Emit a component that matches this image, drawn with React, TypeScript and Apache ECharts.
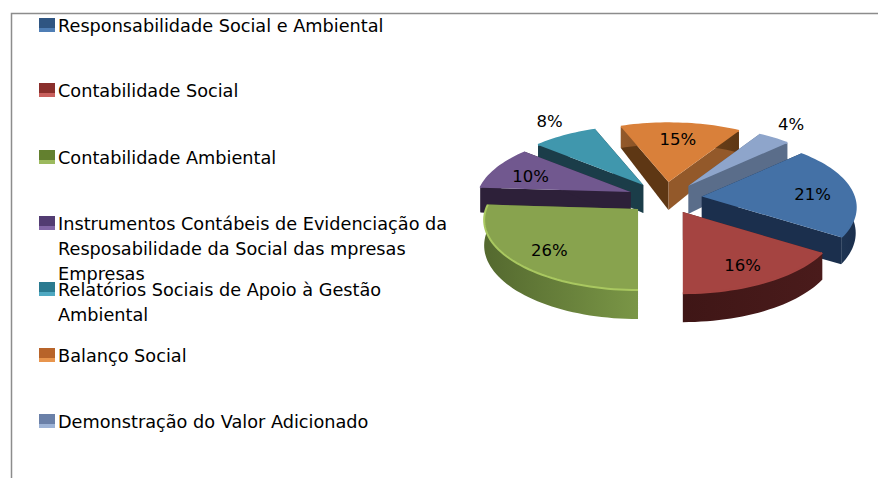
import React, { useEffect, useRef } from "react";
import * as echarts from "echarts";

const categories = [
  "Responsabilidade Social e Ambiental",
  "Contabilidade Social",
  "Contabilidade Ambiental",
  "Instrumentos Contábeis de Evidenciação da\nResposabilidade da Social das mpresas\nEmpresas",
  "Relatórios Sociais de Apoio à Gestão\nAmbiental",
  "Balanço Social",
  "Demonstração do Valor Adicionado",
];
const percentages = [21, 16, 26, 10, 8, 15, 4];

const topColors = ["#4471a6", "#a54441", "#88a34e", "#71588f", "#4097ad", "#d9803a", "#8ea5cb"];
const wallColors = ["#1b2f4d", "#4a1b1b", "#7a9646", "#2d2039", "#1b3d49", "#5e3714", "#5a6d8a"];
const wallEdgeColors = ["#24405f", "#3f1616", "#54692f", "#2d2039", "#1b3d49", "#93592a", "#5a6d8a"];
const startCutColors = ["#1b2f4d", "#4a1b1b", "#54692f", "#2d2039", "#1b3d49", "#5e3714", "#5a6d8a"];
const endCutColors = ["#1b2f4d", "#4a1b1b", "#54692f", "#2d2039", "#1b3d49", "#93592a", "#5a6d8a"];
const rimColors = ["#4471a6", "#a54441", "#a9c860", "#71588f", "#4097ad", "#d9803a", "#8ea5cb"];
const swatchDark = ["#2f5582", "#8a2f2c", "#63802f", "#523c72", "#2a7a90", "#b8642a", "#6a80a8"];
const swatchLight = ["#4f7eb5", "#c9605d", "#9cba5e", "#8266a6", "#4fa9c2", "#e8954d", "#9db3d6"];

const FONT = '"DejaVu Sans"';
const CX = 665;
const CY = 198;
const R = 152;
const SQUASH = 0.46;
const PERSPECTIVE = 0.16;
const EXPLODE_X = 37;
const EXPLODE_Y = 16;
const DEPTH = 25;
const APEX_DEPTH = 28;
const START_ANGLE = 46.8;
const TOTAL = percentages.reduce((a, b) => a + b, 0);

const rad = (d: number) => (d * Math.PI) / 180;

function startOf(i: number) {
  let acc = 0;
  for (let k = 0; k < i; k++) acc += percentages[k];
  return START_ANGLE + (acc / TOTAL) * 360;
}

function renderSlice(params: any, api: any) {
  const i = params.dataIndex;
  const value = api.value(1);
  const a0 = startOf(i);
  const a1 = a0 + (value / TOTAL) * 360;
  const mid = (a0 + a1) / 2;
  const ax = CX + EXPLODE_X * Math.sin(rad(mid));
  const ay = CY - EXPLODE_Y * Math.cos(rad(mid));
  const rimPoint = (deg: number, f = 1, z = 0) => {
    const Y = -Math.cos(rad(deg)) * f;
    const s = 1 + PERSPECTIVE * Y;
    return [
      ax + R * f * Math.sin(rad(deg)) * s,
      ay + SQUASH * R * Y * s + z * s,
    ];
  };
  const apexLow = [ax, ay + APEX_DEPTH];
  const arcTop: number[][] = [];
  const arcBottom: number[][] = [];
  const n = Math.max(8, Math.ceil((a1 - a0) / 2));
  for (let k = 0; k <= n; k++) {
    const d = a0 + ((a1 - a0) * k) / n;
    arcTop.push(rimPoint(d));
    arcBottom.push(rimPoint(d, 1, DEPTH));
  }
  const depthRank = Math.round((1 - Math.cos(rad(mid))) * 50) * 10;
  const outside = value < 10;
  const lp = rimPoint(mid, outside ? 1.25 : 0.74);
  const poly = (points: number[][], fill: any, z: number) => ({
    type: "polygon",
    z2: depthRank + z,
    shape: { points },
    style: { fill },
  });
  return {
    type: "group",
    children: [
      poly([arcTop[0], arcBottom[0], apexLow, [ax, ay]], startCutColors[i], 1),
      poly([arcTop[n], arcBottom[n], apexLow, [ax, ay]], endCutColors[i], 2),
      poly(
        [...arcTop, ...arcBottom.slice().reverse()],
        new echarts.graphic.LinearGradient(0, 0, 1, 0, [
          { offset: 0, color: wallEdgeColors[i] },
          { offset: 1, color: wallColors[i] },
        ]),
        3
      ),
      poly([[ax, ay], ...arcTop], topColors[i], 4),
      {
        type: "polyline",
        z2: depthRank + 5,
        shape: { points: arcTop },
        style: { stroke: rimColors[i], lineWidth: 2, fill: "none" },
      },
      {
        type: "text",
        z2: 2000,
        x: lp[0],
        y: lp[1] + (outside ? -4 : 3),
        style: {
          text: `${value}%`,
          fill: "#000000",
          font: `16.5px ${FONT}`,
          align: "center",
          verticalAlign: "middle",
        },
      },
    ],
  };
}

const legendTops = [26, 91, 158, 224, 290, 356, 422];

function legendGraphics() {
  const out: any[] = [
    {
      type: "polyline",
      shape: { points: [[11.5, 478], [11.5, 13.5], [878, 13.5]] },
      style: { stroke: "#8c8c8c", lineWidth: 1.5, fill: "none" },
    },
  ];
  categories.forEach((name, i) => {
    const y = legendTops[i];
    out.push({
      type: "rect",
      shape: { x: 39, y: y - 8, width: 16, height: 14 },
      style: {
        fill: new echarts.graphic.LinearGradient(0, 0, 0, 1, [
          { offset: 0, color: swatchDark[i] },
          { offset: 0.7, color: swatchDark[i] },
          { offset: 0.75, color: swatchLight[i] },
          { offset: 1, color: swatchLight[i] },
        ]),
      },
    });
    out.push({
      type: "text",
      x: 58,
      y: y - 13,
      style: {
        text: name,
        fill: "#000000",
        font: `17.7px ${FONT}`,
        lineHeight: 25,
        align: "left",
        verticalAlign: "top",
      },
    });
  });
  return out;
}

export default function App() {
  const ref = useRef<HTMLDivElement>(null);
  useEffect(() => {
    document.body.style.margin = "0";
    const chart = echarts.init(ref.current!, undefined, { renderer: "svg" });
    chart.setOption({
      animation: false,
      backgroundColor: "#ffffff",
      graphic: { elements: legendGraphics() },
      series: [
        {
          type: "custom",
          coordinateSystem: "none",
          renderItem: renderSlice,
          data: percentages.map((v, i) => [i, v]),
          silent: true,
        },
      ],
    });
    return () => chart.dispose();
  }, []);
  return <div ref={ref} style={{ width: 878, height: 478 }} />;
}
